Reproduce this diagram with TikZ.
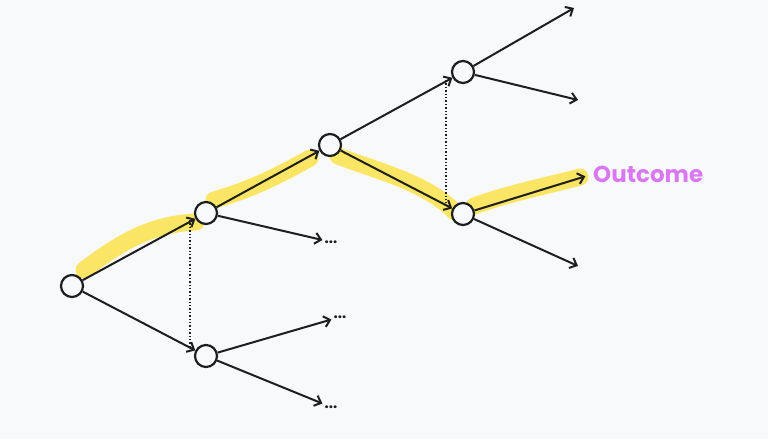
\documentclass[tikz,border=0pt]{standalone}
\usepackage{fontspec}
\setmainfont{Poppins}
\usetikzlibrary{arrows.meta,backgrounds}
\definecolor{paper}{HTML}{F8F9FA}
\definecolor{ink}{HTML}{1E1E1E}
\definecolor{marker}{RGB}{250,230,100}
\definecolor{violet}{RGB}{218,119,242}
\begin{document}
\begin{tikzpicture}[x=1pt,y=-1pt]
            \tikzstyle{state}=[circle, draw=ink, fill=paper, line width=2.2pt, minimum size=22pt, inner sep=0pt]
            \tikzstyle{edge}=[ink, line width=2pt, -{Straight Barb[length=6pt,width=11pt,line width=2pt]}]
            \tikzstyle{more}=[ink, inner sep=2pt, font=\fontsize{15}{15}\selectfont\bfseries]
            \tikzstyle{glow}=[marker, line width=17pt, line cap=round, line join=round]
            \useasboundingbox (0,0) rectangle (768,439);
            % states
            \node [state] (A) at (72,286) {};
            \node [state] (B) at (206,213) {};
            \node [state] (C) at (206,356) {};
            \node [state] (D) at (330,145) {};
            \node [state] (E) at (463,72) {};
            \node [state] (F) at (463,214) {};
            % loose ends
            \node [more] (Bd) at (331,242) {...};
            \node [more] (Cu) at (340,317) {...};
            \node [more] (Cd) at (331,407) {...};
            \coordinate (Eu) at (574,8);
            \coordinate (Ed) at (578,100);
            \coordinate (Fd) at (578,266);
            \node [violet, anchor=west, inner sep=0pt, font=\fontsize{23}{23}\selectfont\bfseries] (out) at (593,174) {Outcome};
            % marked path
            \begin{scope}[on background layer]
            \fill [paper] (0,0) rectangle (768,439);
            \draw [glow] (84,270) .. controls (118,244) and (150,224) .. (196,222);
            \draw [glow] (214,200) .. controls (250,190) and (280,175) .. (310,158);
            \draw [glow] (338,156) .. controls (380,172) and (425,182) .. (455,212);
            \draw [glow] (474,206) .. controls (510,193) and (550,185) .. (580,177);
            \end{scope}
            % moves
            \draw [edge] (A) -- (B);
            \draw [edge] (A) -- (C);
            \draw [edge] (B) -- (D);
            \draw [edge] (B) -- (Bd);
            \draw [edge] (C) -- (Cu);
            \draw [edge] (C) -- (Cd);
            \draw [edge] (D) -- (E);
            \draw [edge] (D) -- (F);
            \draw [edge] (E) -- (Eu);
            \draw [edge] (E) -- (Ed);
            \draw [edge, shorten >=8pt] (F) -- (out.west);
            \draw [edge] (F) -- (Fd);
            % same information
            \draw [ink, line width=1.4pt, dotted] ([shift={(-16,7)}]B.center) -- ([shift={(-16,-9)}]C.center);
            \draw [ink, line width=1.4pt, dotted] ([shift={(-17,8)}]E.center) -- ([shift={(-17,-11)}]F.center);
\end{tikzpicture}
\end{document}
